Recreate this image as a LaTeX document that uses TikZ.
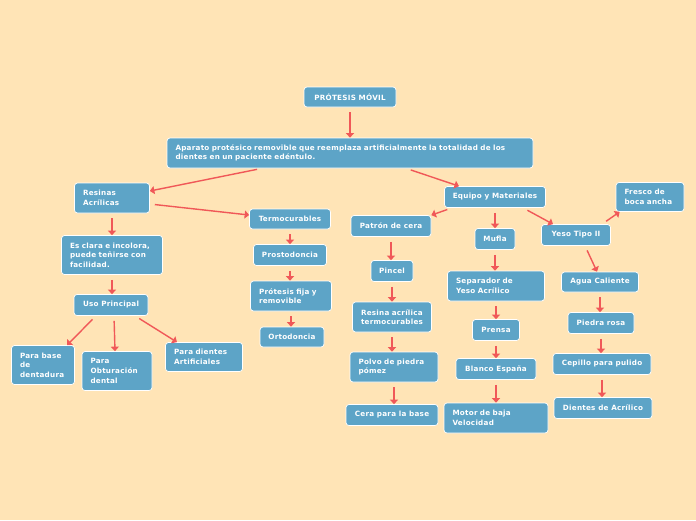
\documentclass[tikz,border=0pt]{standalone}
\usepackage{fontspec}
\setmainfont{DejaVu Sans}[LetterSpace=3.5]
\usetikzlibrary{arrows.meta}

\definecolor{paper}{RGB}{255,228,182}
\definecolor{boxblue}{RGB}{93,164,199}
\definecolor{arrowred}{RGB}{240,88,88}

\tikzset{
  concept/.style={draw=white, line width=0.7pt, fill=boxblue, rounded corners=3pt,
    text=white, font=\fontsize{7.2}{9.6}\selectfont\bfseries, inner ysep=0pt},
  box/.style={concept, minimum width=#1, minimum height=21pt, inner xsep=0pt},
  tbox/.style={concept, align=left, text width=#1, inner xsep=8.5pt, minimum height=30pt},
  link/.style={draw=arrowred, line width=1.4pt, shorten <=5pt,
    -{Triangle[width=8pt,length=4.5pt]}}
}

\begin{document}
\begin{tikzpicture}[x=1pt, y=-1pt]
\useasboundingbox (0,0) rectangle (696,520);
\fill[paper] (0,0) rectangle (696,520);

% top
\node[box=92pt, minimum height=20pt] (protesis-movil) at (350,97) {PRÓTESIS MÓVIL};
\node[tbox=349pt] (aparato) at (350,153) {Aparato protésico removible que reemplaza artificialmente la totalidad de los\\dientes en un paciente edéntulo.};

% resinas
\node[tbox=58pt] (resinas) at (112,198) {Resinas\\Acrílicas};
\node[tbox=84pt, minimum height=39pt] (clara) at (112,255) {Es clara e incolora,\\puede teñirse con\\facilidad.};
\node[box=74pt] (uso) at (111,305) {Uso Principal};
\node[tbox=46pt, minimum height=39pt] (base) at (43,365) {Para base\\de\\dentadura};
\node[tbox=53pt, minimum height=39pt] (obturacion) at (117,371) {Para\\Obturación\\dental};
\node[tbox=60pt, minimum height=29pt] (artificiales) at (204,357) {Para dientes\\Artificiales};

\node[box=81pt, minimum height=20pt] (termo) at (290,219) {Termocurables};
\node[box=73pt] (prosto) at (290,255) {Prostodoncia};
\node[tbox=64pt] (fija) at (291,296) {Prótesis fija y\\removible};
\node[box=64pt, minimum height=20pt] (orto) at (292,337) {Ortodoncia};

% equipo y materiales
\node[box=101pt] (equipo) at (495,197) {Equipo y Materiales};
\node[box=80pt] (patron) at (391,226) {Patrón de cera};
\node[box=42pt] (pincel) at (392,271) {Pincel};
\node[tbox=62pt] (resina) at (392,317) {Resina acrílica\\termocurables};
\node[tbox=71pt] (polvo) at (394,367) {Polvo de piedra\\pómez};
\node[box=92pt] (cera) at (392,415) {Cera para la base};

\node[box=40pt] (mufla) at (495,239) {Mufla};
\node[tbox=80pt] (separador) at (496,286) {Separador de\\Yeso Acrílico};
\node[box=47pt] (prensa) at (496,330) {Prensa};
\node[box=80pt] (blanco) at (496,369) {Blanco España};
\node[tbox=87pt] (motor) at (496,418) {Motor de baja\\Velocidad};

\node[box=69pt] (yeso) at (576,235) {Yeso Tipo II};
\node[tbox=51pt, minimum height=29pt] (fresco) at (650,197) {Fresco de\\boca ancha};
\node[box=77pt, minimum height=20pt] (agua) at (600,282) {Agua Caliente};
\node[box=66pt] (piedra) at (601,323) {Piedra rosa};
\node[box=98pt] (cepillo) at (602,364) {Cepillo para pulido};
\node[box=98pt] (dientes) at (603,408) {Dientes de Acrílico};

% connectors
\draw[link] (protesis-movil) -- (aparato);
\draw[link] ([xshift=-88pt]aparato.south) -- ([yshift=7pt]resinas.east);
\draw[link] ([xshift=56pt]aparato.south) -- ([xshift=-36pt]equipo.north);
\draw[link] ([yshift=-6pt]resinas.east) -- ([yshift=4pt]termo.west);
\draw[link] ([xshift=-15pt]uso.south) -- ([xshift=24pt]base.north);
\draw[link] ([xshift=3pt]uso.south) -- ([xshift=-2pt]obturacion.north);
\draw[link] ([xshift=24pt]uso.south) -- ([xshift=-27pt]artificiales.north);
\draw[link] ([xshift=-43pt]equipo.south) -- (patron.north east);
\draw[link] ([xshift=28pt]equipo.south) -- ([xshift=-23pt]yeso.north);
\draw[link] ([xshift=26pt]yeso.north) -- ([xshift=4pt]fresco.south west);
\draw[link] ([xshift=9pt]yeso.south) -- ([xshift=-3pt]agua.north);

\foreach \from/\to in {resinas/clara, clara/uso, termo/prosto, prosto/fija, fija/orto,
    patron/pincel, pincel/resina, resina/polvo, polvo/cera,
    equipo/mufla, mufla/separador, separador/prensa, prensa/blanco, blanco/motor,
    agua/piedra, piedra/cepillo, cepillo/dientes}
  \draw[link] (\from.south) -- (\from.south |- \to.north);

\end{tikzpicture}
\end{document}
